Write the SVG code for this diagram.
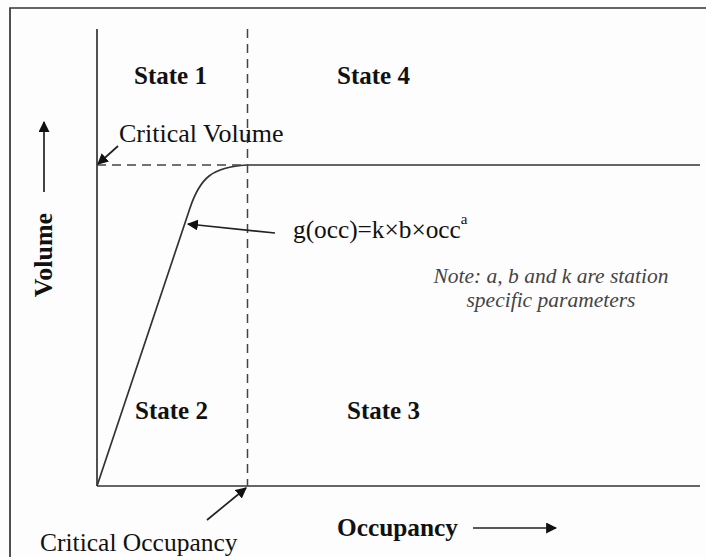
<svg xmlns="http://www.w3.org/2000/svg" width="706" height="557" viewBox="0 0 706 557">
<defs>
<style>
.ln{stroke:#333;stroke-width:1.7;fill:none}
.dash{stroke:#444;stroke-width:1.5;fill:none;stroke-dasharray:9,6}
.arr{stroke:#222;stroke-width:1.7;fill:none;marker-end:url(#ah)}
.t{font-family:"Liberation Serif","Times New Roman",serif;fill:#111}
.b{font-weight:bold}
.st{font-size:25px;font-weight:bold}
.note{font-family:"Liberation Serif","Times New Roman",serif;font-style:italic;font-size:21.5px;fill:#444}
</style>
<marker id="ah" viewBox="0 0 10 10" refX="9" refY="5" markerWidth="11" markerHeight="11" markerUnits="userSpaceOnUse" orient="auto">
<path d="M0,0 L10,5 L0,10 z" fill="#111"/>
</marker>
<marker id="ah2" viewBox="0 0 10 10" refX="9" refY="5" markerWidth="15" markerHeight="15" markerUnits="userSpaceOnUse" orient="auto">
<path d="M0,0.5 L10,5 L0,9.5 z" fill="#111"/>
</marker>
</defs>
<rect width="706" height="557" fill="#fdfdfd"/>
<g id="frame">
<path d="M10,557 V8 H706" class="ln" stroke-width="1.3"/>
</g>
<g id="axes">
<line x1="97" y1="29" x2="97" y2="486" class="ln"/>
<line x1="97" y1="486" x2="700" y2="486" class="ln"/>
</g>
<g id="curve">
<path d="M97,486 L190,208 C200,178 212,167 247,165 L700,165" class="ln"/>
</g>
<g id="connectors">
<line x1="97" y1="165" x2="247" y2="165" class="dash"/>
<line x1="247.5" y1="29" x2="247.5" y2="486" class="dash"/>
<line x1="118" y1="146" x2="98" y2="164" class="arr" marker-end="url(#ah2)"/>
<line x1="275" y1="233" x2="188" y2="224" class="arr" marker-end="url(#ah2)"/>
<line x1="207" y1="520" x2="246" y2="488" class="arr" marker-end="url(#ah2)"/>
<line x1="44" y1="192" x2="44" y2="122" class="arr" marker-end="url(#ah2)"/>
<line x1="473" y1="528" x2="556" y2="528" class="arr" marker-end="url(#ah2)"/>
</g>
<g id="state1"><text class="t st" x="134" y="84">State 1</text></g>
<g id="state4"><text class="t st" x="337" y="84">State 4</text></g>
<g id="state2"><text class="t st" x="135" y="419">State 2</text></g>
<g id="state3"><text class="t st" x="347" y="419">State 3</text></g>
<g id="critical-volume"><text class="t" x="119" y="142" font-size="26">Critical Volume</text></g>
<g id="function"><text class="t" x="293" y="238" font-size="25.3">g(occ)=k×b×occ<tspan font-size="15" dy="-14">a</tspan></text></g>
<g id="note">
<text class="note" x="551" y="283" text-anchor="middle">Note: a, b and k are station</text>
<text class="note" x="551" y="307" text-anchor="middle">specific parameters</text>
</g>
<g id="volume-label"><text class="t b" font-size="26" transform="translate(52,255) rotate(-90)" text-anchor="middle">Volume</text></g>
<g id="occupancy-label"><text class="t b" x="337" y="536" font-size="25.3">Occupancy</text></g>
<g id="critical-occupancy"><text class="t" x="40" y="551" font-size="25.5">Critical Occupancy</text></g>
</svg>
